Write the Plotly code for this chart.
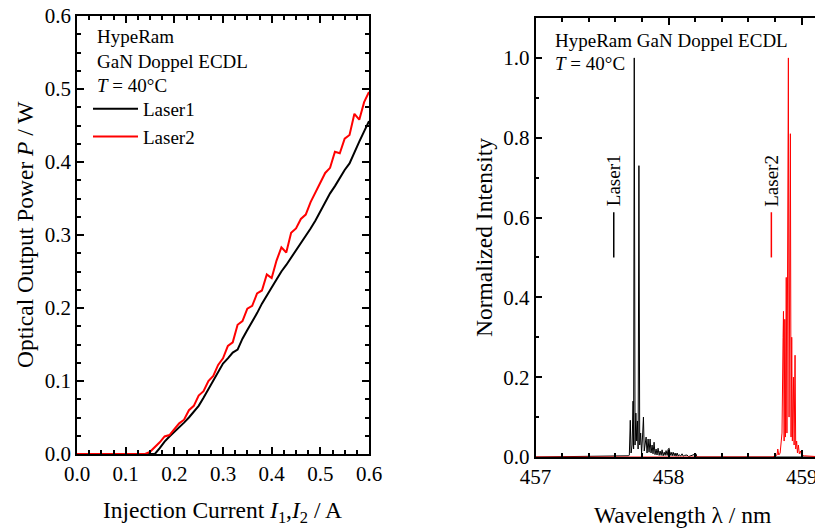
import plotly.graph_objects as go

# -----------------------------
# Data: P-I curves
# -----------------------------
current = [0.00, 0.01, 0.02, 0.03, 0.04, 0.05, 0.06, 0.07, 0.08, 0.09,
           0.10, 0.11, 0.12, 0.13, 0.14, 0.15, 0.16, 0.17, 0.18, 0.19,
           0.20, 0.21, 0.22, 0.23, 0.24, 0.25, 0.26, 0.27, 0.28, 0.29,
           0.30, 0.31, 0.32, 0.33, 0.34, 0.35, 0.36, 0.37, 0.38, 0.39,
           0.40, 0.41, 0.42, 0.43, 0.44, 0.45, 0.46, 0.47, 0.48, 0.49,
           0.50, 0.51, 0.52, 0.53, 0.54, 0.55, 0.56, 0.57, 0.58, 0.59,
           0.60]

power_laser1 = [0, 0, 0, 0, 0, 0, 0, 0, 0, 0,
                0, 0, 0, 0, 0, 0, 0.000, 0.008, 0.017, 0.024,
                0.030, 0.036, 0.043, 0.050, 0.058, 0.066, 0.077, 0.089, 0.100, 0.113,
                0.124, 0.131, 0.139, 0.143, 0.158, 0.170, 0.181, 0.193, 0.206, 0.218,
                0.228, 0.239, 0.250, 0.259, 0.269, 0.278, 0.288, 0.298, 0.309, 0.320,
                0.333, 0.346, 0.357, 0.367, 0.379, 0.389, 0.398, 0.414, 0.428, 0.442,
                0.456]

power_laser2 = [0, 0, 0, 0, 0, 0, 0, 0, 0, 0,
                0, 0, 0, 0, 0, 0.003, 0.009, 0.016, 0.024, 0.026,
                0.034, 0.042, 0.047, 0.060, 0.066, 0.080, 0.086, 0.100, 0.107, 0.122,
                0.131, 0.148, 0.153, 0.177, 0.182, 0.199, 0.203, 0.220, 0.224, 0.246,
                0.241, 0.265, 0.283, 0.276, 0.303, 0.309, 0.322, 0.328, 0.345, 0.358,
                0.372, 0.385, 0.392, 0.414, 0.412, 0.432, 0.437, 0.466, 0.458, 0.482,
                0.496]

# -----------------------------
# Data: spectra
# -----------------------------
wl_laser1 = [457.000, 457.600, 457.700, 457.705, 457.712, 457.718, 457.726, 457.733,
             457.737, 457.742, 457.748, 457.754, 457.760, 457.766, 457.771, 457.777,
             457.783, 457.790, 457.797, 457.804, 457.811, 457.817, 457.824, 457.831,
             457.838, 457.846, 457.853, 457.861, 457.868, 457.876, 457.883, 457.891,
             457.898, 457.906, 457.913, 457.921, 457.929, 457.936, 457.944, 457.951,
             457.959, 457.967, 457.974, 457.981, 457.989, 457.997, 458.004, 458.012,
             458.019, 458.027, 458.034, 458.042, 458.049, 458.056, 458.064, 458.072,
             458.080, 458.090, 458.101, 458.110, 458.120, 458.139, 458.150, 458.206,
             458.212, 459.160]
int_laser1 = [0.000, 0.002, 0.003, 0.005, 0.092, 0.010, 0.030, 0.140,
              0.020, 1.000, 0.030, 0.110, 0.040, 0.090, 0.020, 0.730,
              0.030, 0.060, 0.010, 0.050, 0.100, 0.015, 0.040, 0.050,
              0.010, 0.045, 0.012, 0.045, 0.010, 0.030, 0.008, 0.037,
              0.006, 0.020, 0.005, 0.022, 0.004, 0.015, 0.004, 0.018,
              0.003, 0.012, 0.004, 0.016, 0.004, 0.020, 0.022, 0.004,
              0.012, 0.003, 0.012, 0.003, 0.010, 0.002, 0.010, 0.002,
              0.006, 0.002, 0.008, 0.002, 0.004, 0.005, 0.001, 0.008,
              0.000, 0.000]

wl_laser2 = [457.000, 458.780, 458.800, 458.815, 458.820, 458.828, 458.838, 458.845,
             458.852, 458.860, 458.863, 458.868, 458.873, 458.878, 458.884, 458.889,
             458.895, 458.900, 458.905, 458.910, 458.915, 458.920, 458.925, 458.930,
             458.938, 458.943, 458.950, 458.955, 458.962, 458.968, 458.975, 458.982,
             458.990, 459.000, 459.020, 459.160]
int_laser2 = [0.000, 0.000, 0.003, 0.005, 0.020, 0.005, 0.010, 0.030,
              0.060, 0.300, 0.365, 0.040, 0.345, 0.050, 0.450, 0.060,
              0.800, 1.000, 0.100, 0.500, 0.810, 0.050, 0.300, 0.040,
              0.200, 0.030, 0.255, 0.020, 0.040, 0.010, 0.030, 0.008,
              0.015, 0.004, 0.003, 0.000]

FONT = "Liberation Serif"
# page body has an 8px margin, so the figure starts at (8, 8) in the window
OFF = 8
W, H = 823 - OFF, 529 - OFF


def px(x):
    return (x - OFF) / W


def py(y):
    return 1 - (y - OFF) / H


fig = go.Figure()

fig.add_trace(go.Scatter(x=current, y=power_laser1, mode="lines", name="Laser1",
                         line=dict(color="black", width=2), xaxis="x", yaxis="y"))
fig.add_trace(go.Scatter(x=current, y=power_laser2, mode="lines", name="Laser2",
                         line=dict(color="#ff0000", width=2), xaxis="x", yaxis="y"))
fig.add_trace(go.Scatter(x=wl_laser1, y=int_laser1, mode="lines", showlegend=False,
                         line=dict(color="black", width=1), xaxis="x2", yaxis="y2"))
fig.add_trace(go.Scatter(x=wl_laser2, y=int_laser2, mode="lines", showlegend=False,
                         line=dict(color="#ff0000", width=1), xaxis="x2", yaxis="y2"))

axis_common = dict(
    showline=True, linecolor="black", linewidth=1.5, mirror="allticks",
    ticks="inside", ticklen=7, tickwidth=1.5, tickcolor="black",
    showgrid=False, zeroline=False, automargin=False, ticklabeloverflow="allow",
    tickfont=dict(family=FONT, size=21, color="black"),
)

fig.update_layout(
    template="none",
    width=W, height=H,
    margin=dict(l=0, r=0, t=0, b=0, pad=0, autoexpand=False),
    paper_bgcolor="white", plot_bgcolor="white",
    font=dict(family=FONT, size=19, color="black"),
    xaxis=dict(domain=[px(77), px(369)], range=[0, 0.6], dtick=0.1, tick0=0,
               tickformat=".1f", anchor="y",
               minor=dict(dtick=0.025, ticks="inside", ticklen=4, tickwidth=1.5,
                          tickcolor="black"),
               **axis_common),
    yaxis=dict(domain=[py(454), py(16)], range=[0, 0.6], dtick=0.1, tick0=0,
               tickformat=".1f", anchor="x",
               minor=dict(dtick=0.025, ticks="inside", ticklen=4, tickwidth=1.5,
                          tickcolor="black"),
               **axis_common),
    xaxis2=dict(domain=[px(535.5), 1.0], range=[457, 459.16], dtick=1, tick0=457,
                tickformat="d", anchor="y2",
                minor=dict(dtick=0.2, ticks="inside", ticklen=4, tickwidth=1.5,
                           tickcolor="black"),
                **axis_common),
    yaxis2=dict(domain=[py(457), py(18)], range=[0, 1.1], dtick=0.2, tick0=0,
                tickformat=".1f", anchor="x2",
                minor=dict(dtick=0.1, ticks="inside", ticklen=4, tickwidth=1.5,
                           tickcolor="black"),
                **axis_common),
    legend=dict(x=px(88), y=py(90), xanchor="left", yanchor="top",
                bgcolor="rgba(0,0,0,0)", tracegroupgap=0, itemwidth=45,
                borderwidth=0, font=dict(family=FONT, size=19, color="black")),
    showlegend=True,
)

# -----------------------------
# Text annotations
# -----------------------------
notes = [
    ("HypeRam", 95, 36),
    ("GaN Doppel ECDL", 95, 61),
    ("<i>T</i> = 40°C", 95, 85),
    ("HypeRam GaN Doppel ECDL", 553, 40),
    ("<i>T</i> = 40°C", 553, 63),
]
for txt, x, y in notes:
    fig.add_annotation(text=txt, x=px(x), y=py(y), xref="paper", yref="paper",
                       xanchor="left", yanchor="middle", showarrow=False,
                       font=dict(family=FONT, size=19, color="black"))

# axis titles
titles = [
    ("Optical Output Power <i>P</i> / W", 25, 235, -90),
    ("Injection Current <i>I</i><sub>1</sub>,<i>I</i><sub>2</sub> / A", 223, 512, 0),
    ("Normalized Intensity", 484, 237, -90),
    ("Wavelength λ / nm", 682, 515, 0),
]
for txt, x, y, ang in titles:
    fig.add_annotation(text=txt, x=px(x), y=py(y), xref="paper", yref="paper",
                       xanchor="center", yanchor="middle", textangle=ang,
                       showarrow=False, font=dict(family=FONT, size=23.5, color="black"))

# rotated legend labels in the spectrum panel
for label, color, xpos in [("Laser1", "black", 457.588), ("Laser2", "#ff0000", 458.772)]:
    fig.add_shape(type="line", xref="x2", yref="y2", x0=xpos, x1=xpos, y0=0.50, y1=0.613,
                  line=dict(color=color, width=1.5))
    fig.add_annotation(text=label, x=xpos, y=0.693, xref="x2", yref="y2",
                       xanchor="center", yanchor="middle",
                       textangle=-90, showarrow=False,
                       font=dict(family=FONT, size=19, color="black"))

fig.write_html("out.html")
